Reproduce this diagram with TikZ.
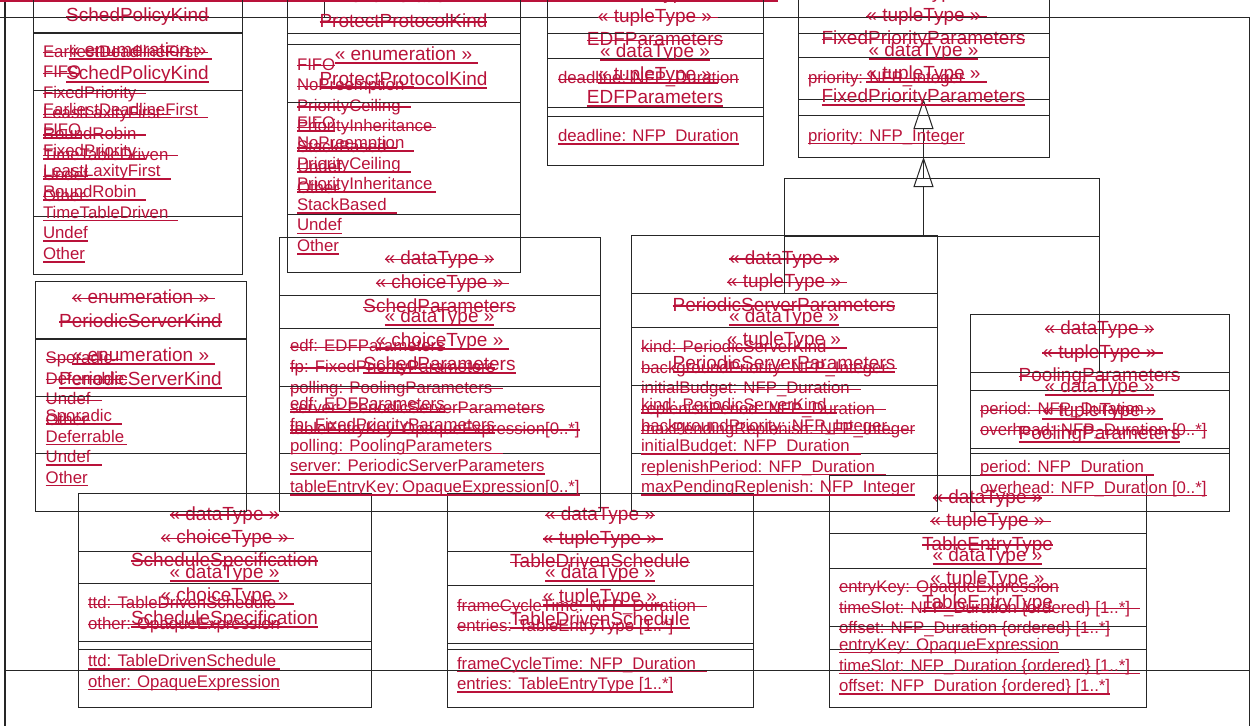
\documentclass[tikz,border=0pt]{standalone}
\usepackage{fontspec}
\setmainfont{Liberation Sans}
\usetikzlibrary{arrows.meta}
\definecolor{umlred}{RGB}{185,18,58}
\newif\ifstk
\newcommand\hfnt{\fontsize{19}{23}\selectfont}
\newcommand\afnt{\fontsize{16.8}{20.6}\selectfont}
% header text, centred: name, position, text, underline extension
\newcommand\hdr[4]{%
  \node[lbl,font=\hfnt,anchor=base] (#1) at #2 {#3};
  \ifstk
    \draw[stk] ([yshift=5pt]#1.base west) -- ([yshift=5pt,xshift=#4pt]#1.base east);
  \else
    \draw[unl] ([yshift=-2.6pt]#1.base west) -- ([yshift=-2.6pt,xshift=#4pt]#1.base east);
  \fi}
% attribute / literal text, left aligned
\newcommand\attr[4]{%
  \node[lbl,font=\afnt,anchor=base west] (#1) at #2 {#3};
  \ifstk
    \draw[stk] ([yshift=4.4pt]#1.base west) -- ([yshift=4.4pt,xshift=#4pt]#1.base east);
  \else
    \draw[unl] ([yshift=-2.5pt]#1.base west) -- ([yshift=-2.5pt,xshift=#4pt]#1.base east);
  \fi}
% class box: name, x1, x2, top, divider, bottom
\newcommand\cls[6]{%
  \node[box,minimum width={#3-#2},minimum height={#6-#4},anchor=north west] (#1) at (#2,#4) {};
  \draw[bx] (#2,#5) -- (#3,#5);}
\newcommand\diag{%
  % SchedPolicyKind
  \cls{spk}{33}{242}{33}{90}{274}
  \hdr{spkA}{(137.5,56)}{« enumeration »}{6}
  \hdr{spkB}{(137.5,79.5)}{SchedPolicyKind}{0}
  \attr{spk1}{(43,115)}{EarliestDeadlineFirst}{10}
  \attr{spk2}{(43,135.6)}{FIFO}{0}
  \attr{spk3}{(43,156.2)}{FixedPriority}{10}
  \attr{spk4}{(43,176.8)}{LeastLaxityFirst}{10}
  \attr{spk5}{(43,197.4)}{RoundRobin}{10}
  \attr{spk6}{(43,218)}{TimeTableDriven}{10}
  \attr{spk7}{(43,238.6)}{Undef}{0}
  \attr{spk8}{(43,259.2)}{Other}{0}
  % ProtectProtocolKind
  \cls{ppk}{287}{520}{33}{102}{272}
  \hdr{ppkA}{(403.5,60.5)}{« enumeration »}{6}
  \hdr{ppkB}{(403.5,85)}{ProtectProtocolKind}{0}
  \attr{ppk1}{(297,128.2)}{FIFO}{0}
  \attr{ppk2}{(297,148.75)}{NoPreemption}{10}
  \attr{ppk3}{(297,169.3)}{PriorityCeiling}{10}
  \attr{ppk4}{(297,189.85)}{PriorityInheritance}{4}
  \attr{ppk5}{(297,210.4)}{StackBased}{10}
  \attr{ppk6}{(297,230.95)}{Undef}{0}
  \attr{ppk7}{(297,251.5)}{Other}{0}
  % EDFParameters
  \cls{edf}{547}{763}{33}{116}{165}
  \hdr{edfA}{(655,57.5)}{« dataType »}{0}
  \hdr{edfB}{(655,80.5)}{« tupleType »}{6}
  \hdr{edfC}{(655,103.5)}{EDFParameters}{0}
  \attr{edf1}{(558,141.5)}{deadline: NFP\_Duration}{0}
  % FixedPriorityParameters
  \cls{fpp}{798}{1049}{33}{115}{157}
  \hdr{fppA}{(923.5,56)}{« dataType »}{0}
  \hdr{fppB}{(923.5,79.5)}{« tupleType »}{6}
  \hdr{fppC}{(923.5,102.5)}{FixedPriorityParameters}{0}
  \attr{fpp1}{(808,141)}{priority: NFP\_Integer}{0}
  % PeriodicServerKind
  \cls{psk}{35}{246}{339}{396}{511}
  \hdr{pskA}{(140.5,361.5)}{« enumeration »}{6}
  \hdr{pskB}{(140.5,385)}{PeriodicServerKind}{0}
  \attr{psk1}{(45.7,421.5)}{Sporadic}{10}
  \attr{psk2}{(45.7,442)}{Deferrable}{3}
  \attr{psk3}{(45.7,462.5)}{Undef}{11}
  \attr{psk4}{(45.7,483)}{Other}{0}
  % SchedParameters
  \cls{sp}{279}{600}{295}{386}{511}
  \hdr{spA}{(439.5,322.5)}{« dataType »}{0}
  \hdr{spB}{(439.5,346.5)}{« choiceType »}{6}
  \hdr{spC}{(439.5,370.5)}{SchedParameters}{0}
  \attr{sp1}{(290,409.6)}{edf: EDFParameters}{0}
  \attr{sp2}{(290,430.3)}{fp: FixedPriorityParameters}{0}
  \attr{sp3}{(290,451)}{polling: PoolingParameters}{11}
  \attr{sp4}{(290,471.7)}{server: PeriodicServerParameters}{0}
  \attr{sp5}{(290,492.4)}{tableEntryKey:\kern3pt OpaqueExpression[0..*]}{0}
  % PeriodicServerParameters
  \cls{psp}{631}{937}{293}{385}{511}
  \hdr{pspA}{(784,322)}{« dataType »}{0}
  \hdr{pspB}{(784,345.5)}{« tupleType »}{6}
  \hdr{pspC}{(784,369)}{PeriodicServerParameters}{0}
  \attr{psp1}{(641,410.5)}{kind: PeriodicServerKind}{10}
  \attr{psp2}{(641,431)}{backgroundPriority: NFP\_Integer}{10}
  \attr{psp3}{(641,451.5)}{initialBudget: NFP\_Duration}{11}
  \attr{psp4}{(641,472)}{replenishPeriod: NFP\_Duration}{11}
  \attr{psp5}{(641,492.5)}{maxPendingReplenish: NFP\_Integer}{0}
  % PoolingParameters
  \cls{pp}{970}{1229}{372}{448}{511}
  \hdr{ppA}{(1099.5,392.5)}{« dataType »}{0}
  \hdr{ppB}{(1099.5,416)}{« tupleType »}{6}
  \hdr{ppC}{(1099.5,439.5)}{PoolingParameters}{0}
  \attr{pp1}{(980,472.5)}{period: NFP\_Duration}{10}
  \attr{pp2}{(980,493)}{overhead: NFP\_Duration [0..*]}{0}
  % ScheduleSpecification
  \cls{ss}{78}{371}{551}{641.5}{707}
  \hdr{ssA}{(224.5,578)}{« dataType »}{0}
  \hdr{ssB}{(224.5,601.5)}{« choiceType »}{6}
  \hdr{ssC}{(224.5,624)}{ScheduleSpecification}{0}
  \attr{ss1}{(88,666.5)}{ttd: TableDrivenSchedule}{4}
  \attr{ss2}{(88,687)}{other: OpaqueExpression}{0}
  % TableDrivenSchedule
  \cls{tds}{447}{753}{551}{643}{707}
  \hdr{tdsA}{(600,578.5)}{« dataType »}{0}
  \hdr{tdsB}{(600,602)}{« tupleType »}{6}
  \hdr{tdsC}{(600,625.5)}{TableDrivenSchedule}{0}
  \attr{tds1}{(457,669)}{frameCycleTime: NFP\_Duration}{11}
  \attr{tds2}{(457,689.5)}{entries: TableEntryType [1..*]}{0}
  % TableEntryType
  \cls{tet}{829}{1146}{533}{626}{707.5}
  \hdr{tetA}{(987.5,561)}{« dataType »}{0}
  \hdr{tetB}{(987.5,584.5)}{« tupleType »}{6}
  \hdr{tetC}{(987.5,608)}{TableEntryType}{0}
  \attr{tet1}{(839,650)}{entryKey: OpaqueExpression}{0}
  \attr{tet2}{(839,671)}{timeSlot: NFP\_Duration \{ordered\} [1..*]}{10}
  \attr{tet3}{(839,691.5)}{offset: NFP\_Duration \{ordered\} [1..*]}{0}
  % generalisations
  \coordinate (j) at (923.5,236);
  \draw[bx] (psp.north) |- (pp.north |- j) -- (pp.north);
  \draw[gen] (fpp.south |- j) -- (fpp.south);
}
\begin{document}
\begin{tikzpicture}[x=1pt,y=-1pt,
  lbl/.style={inner sep=0pt,outer sep=0pt,text=umlred},
  stk/.style={draw=umlred,line width=1.2pt},
  unl/.style={draw=umlred,line width=1.8pt},
  box/.style={draw=black!85,line width=1pt,inner sep=0pt,outer sep=0pt},
  bx/.style={draw=black!85,line width=1pt},
  gen/.style={bx,-{Triangle[open,length=30pt,width=20pt]}}]
\useasboundingbox (0,0) rectangle (1250,726);
\clip (0,0) rectangle (1250,726);
\fill[white] (0,0) rectangle (1250,726);
% frame lines
\draw[bx] (0,17) -- (1249,17) -- (1249,726);
\draw[bx,line width=1.6pt] (5,0) -- (5,726);
\draw[bx] (5,670) -- (1250,670);
\draw[bx] (324,0) -- (324,17);
\draw[draw=umlred,line width=2.5pt] (0,1) -- (778,1);
% struck copy
\stktrue
\begin{scope}[shift={(0,-58)},name prefix=s-]
\diag
\end{scope}
% underlined copy
\stkfalse
\begin{scope}[name prefix=u-]
\diag
\end{scope}
\end{tikzpicture}
\end{document}
